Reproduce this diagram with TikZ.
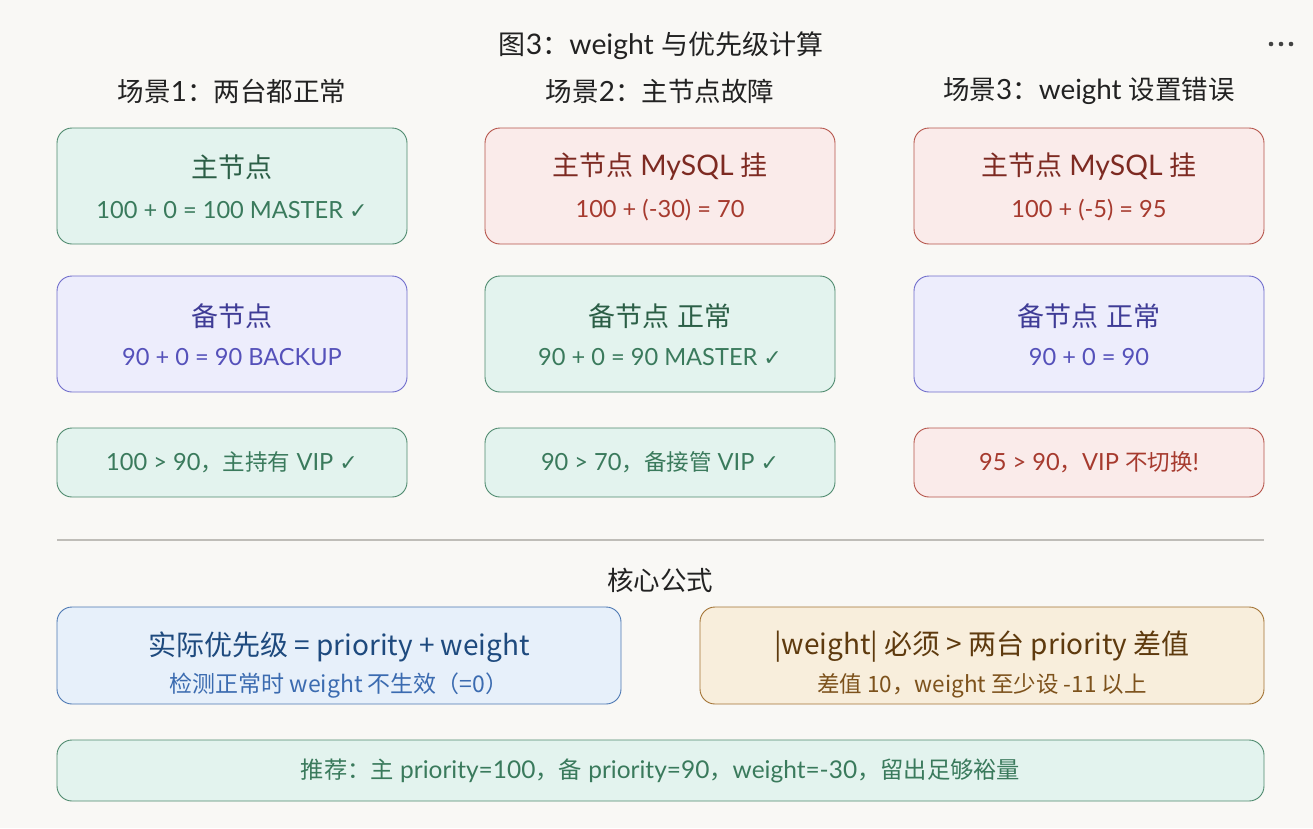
\documentclass[tikz,border=0pt]{standalone}
\usepackage{fontspec}
\setmainfont{Lato}[Scale=1.05]
\newfontfamily\cjk{Noto Sans CJK SC}
\newfontfamily\symfont{DejaVu Sans}
\usetikzlibrary{positioning}
%cambio automatico di font per i caratteri cinesi
\XeTeXinterchartokenstate=1
\newXeTeXintercharclass\cjkclass
\newcommand{\setclass}[2]{\count255=#1
    \loop\XeTeXcharclass\count255=\cjkclass
    \ifnum\count255<#2 \advance\count255 by 1 \repeat}
\setclass{"3000}{"303F}
\setclass{"4E00}{"9FFF}
\setclass{"FF00}{"FFEF}
\def\latfont{\rmfamily}
\XeTeXinterchartoks 0 \cjkclass = {\cjk}
\XeTeXinterchartoks 4095 \cjkclass = {\cjk}
\XeTeXinterchartoks \cjkclass 0 = {\latfont}
\XeTeXinterchartoks \cjkclass 4095 = {\latfont}
\definecolor{sfondo}{HTML}{F9F8F5}
\definecolor{testo}{HTML}{222222}
\definecolor{okfill}{HTML}{E3F3EE}
\definecolor{okline}{HTML}{4E8A6E}
\definecolor{oktit}{HTML}{2B5E46}
\definecolor{oksub}{HTML}{3A7A5C}
\definecolor{errfill}{HTML}{FAEBEA}
\definecolor{errline}{HTML}{B5544A}
\definecolor{errtit}{HTML}{7D2A22}
\definecolor{errsub}{HTML}{A63A2E}
\definecolor{bakfill}{HTML}{EDEDFC}
\definecolor{bakline}{HTML}{6F6CCB}
\definecolor{baktit}{HTML}{3F3C96}
\definecolor{baksub}{HTML}{5551BA}
\definecolor{formfill}{HTML}{E7F0FA}
\definecolor{formline}{HTML}{4C78B3}
\definecolor{formtit}{HTML}{1E4A7E}
\definecolor{formsub}{HTML}{3B6BB0}
\definecolor{regfill}{HTML}{F8EEDC}
\definecolor{regline}{HTML}{A37334}
\definecolor{regtit}{HTML}{5E3A0E}
\definecolor{regsub}{HTML}{7D521C}
\definecolor{linea}{HTML}{BFBDB8}
\newcommand{\ok}{{\symfont\fontsize{22}{24}\selectfont ✓}}

\begin{document}
\begin{tikzpicture}[x=1pt, y=-1pt,
    box/.style={draw, rounded corners=15pt, line width=0.9pt, inner sep=0pt},
    okbox/.style={box, draw=okline, fill=okfill},
    errbox/.style={box, draw=errline, fill=errfill},
    bakbox/.style={box, draw=bakline, fill=bakfill},
    formbox/.style={box, draw=formline, fill=formfill},
    regbox/.style={box, draw=regline, fill=regfill},
    bigbox/.style={minimum width=350pt, minimum height=116pt},
    smallbox/.style={minimum width=350pt, minimum height=69pt},
    head/.style={text=testo, font=\fontsize{26.5}{30}\selectfont},
    tit/.style={font=\fontsize{27}{30}\selectfont},
    sub/.style={font=\fontsize{22.5}{26}\selectfont},
    notolat/.style={font=\cjk\def\latfont{}\fontsize{#1}{30}\selectfont}]
    %sfondo
    \fill[sfondo] (0,0) rectangle (1313,828);
    \useasboundingbox (0,0) rectangle (1313,828);
    %titolo e menu
    \node[head, font=\fontsize{27}{30}\selectfont] (titolo) at (661,46) {图3：weight 与优先级计算};
    \foreach \dx in {-10,0,10}
        \fill[testo!85] (1281+\dx,44) circle (2.3);
    %intestazioni scenari
    \node[head] (sc1) at (232,91) {场景1：两台都正常};
    \node[head] (sc2) at (660,91) {场景2：主节点故障};
    \node[head] (sc3) at (1089,91) {场景3：weight 设置错误};

    %scenario 1
    \node[okbox, bigbox] (m1) at (232,186) {};
    \node[tit, text=oktit] (m1t) at ([yshift=19pt]m1.center) {主节点};
    \node[sub, text=oksub] (m1s) at ([yshift=-24pt]m1.center) {100 + 0 = 100 MASTER \ok};
    \node[bakbox, bigbox] (b1) at (232,334) {};
    \node[tit, text=baktit] (b1t) at ([yshift=18pt]b1.center) {备节点};
    \node[sub, text=baksub] (b1s) at ([yshift=-23pt]b1.center) {90 + 0 = 90 BACKUP};
    \node[okbox, smallbox] (r1) at (232,462.5) {};
    \node[sub, text=oksub] (r1s) at (r1.center) {100 > 90，主持有 VIP \ok};

    %scenario 2
    \node[errbox, bigbox] (m2) at (660,186) {};
    \node[tit, text=errtit] (m2t) at ([yshift=19pt]m2.center) {主节点 MySQL 挂};
    \node[sub, text=errsub] (m2s) at ([yshift=-24pt]m2.center) {100 + (-30) = 70};
    \node[okbox, bigbox] (b2) at (660,334) {};
    \node[tit, text=oktit] (b2t) at ([yshift=18pt]b2.center) {备节点 正常};
    \node[sub, text=oksub] (b2s) at ([yshift=-23pt]b2.center) {90 + 0 = 90 MASTER \ok};
    \node[okbox, smallbox] (r2) at (660,462.5) {};
    \node[sub, text=oksub] (r2s) at (r2.center) {90 > 70，备接管 VIP \ok};

    %scenario 3
    \node[errbox, bigbox] (m3) at (1089,186) {};
    \node[tit, text=errtit] (m3t) at ([yshift=19pt]m3.center) {主节点 MySQL 挂};
    \node[sub, text=errsub] (m3s) at ([yshift=-24pt]m3.center) {100 + (-5) = 95};
    \node[bakbox, bigbox] (b3) at (1089,334) {};
    \node[tit, text=baktit] (b3t) at ([yshift=18pt]b3.center) {备节点 正常};
    \node[sub, text=baksub] (b3s) at ([yshift=-23pt]b3.center) {90 + 0 = 90};
    \node[errbox, smallbox] (r3) at (1089,462.5) {};
    \node[sub, text=errsub] (r3s) at (r3.center) {95 > 90，VIP 不切换!};

    %separatore
    \draw[linea, line width=2pt] (57,540) -- (1264,540);

    %formula
    \node[head] (core) at (660,580) {核心公式};
    \node[formbox, minimum width=564pt, minimum height=97pt] (f1) at (339,655.5) {};
    \node[text=formtit, notolat=28] (f1t) at ([yshift=8.5pt]f1.center) {实际优先级 = priority + weight};
    \node[text=formsub, notolat=23] (f1s) at ([yshift=-30.5pt]f1.center) {检测正常时 weight 不生效（=0）};
    \node[regbox, minimum width=564pt, minimum height=97pt] (f2) at (982,655.5) {};
    \node[text=regtit, notolat=28] (f2t) at ([yshift=8.5pt]f2.center) {|weight| 必须 > 两台 priority 差值};
    \node[text=regsub, notolat=22.5] (f2s) at ([yshift=-30.5pt]f2.center) {差值 10，weight 至少设 -11 以上};

    %raccomandazione
    \node[okbox, minimum width=1207pt, minimum height=61pt] (rec) at (660.5,770.5) {};
    \node[text=oksub, font=\fontsize{23.3}{26}\selectfont] (recs) at (rec.center) {推荐：主 priority=100，备 priority=90，weight=-30，留出足够裕量};
\end{tikzpicture}
\end{document}
